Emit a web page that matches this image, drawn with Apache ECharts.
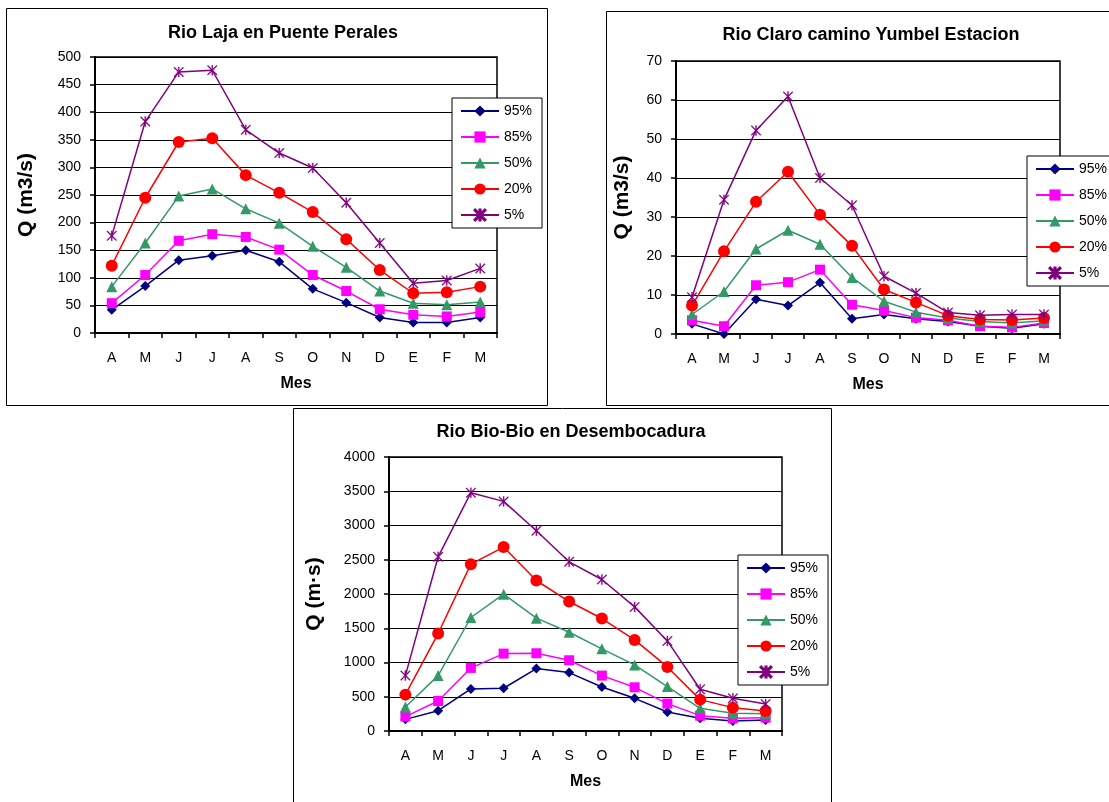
<!DOCTYPE html>
<html><head><meta charset="utf-8">
<script src="https://cdn.jsdelivr.net/npm/echarts@6/dist/echarts.min.js"></script>
<style>html,body{margin:0;padding:0;background:#fff;} #c{width:1109px;height:802px;}</style>
</head><body><div id="c"></div>
<script>
const months = ['A','M','J','J','A','S','O','N','D','E','F','M'];
const seriesNames = ['95%','85%','50%','20%','5%'];

const chartTitles = ['Rio Laja en Puente Perales', 'Rio Claro camino Yumbel Estacion', 'Rio Bio-Bio en Desembocadura'];
const yNames = ['Q (m3/s)', 'Q (m3/s)', 'Q (m·s)'];
const xName = 'Mes';

const laja95 = [42, 85, 132, 140, 150, 129, 80, 55, 28, 19, 19, 28];
const laja85 = [54, 105, 167, 179, 174, 151, 105, 76, 43, 33, 30, 38];
const laja50 = [84, 163, 248, 261, 225, 199, 157, 119, 76, 54, 51, 56];
const laja20 = [122, 245, 346, 353, 286, 254, 219, 170, 114, 72, 74, 84];
const laja05 = [176, 383, 473, 476, 368, 326, 299, 236, 163, 90, 95, 117];

const claro95 = [2.6, 0, 8.9, 7.3, 13.2, 3.9, 5.0, 3.9, 3.2, 2.0, 1.5, 2.6];
const claro85 = [3.5, 2.0, 12.5, 13.3, 16.5, 7.5, 6.0, 4.2, 3.5, 2.0, 1.7, 2.8];
const claro50 = [5.0, 10.9, 21.8, 26.6, 23.0, 14.5, 8.4, 5.6, 4.1, 3.2, 2.8, 3.4];
const claro20 = [7.3, 21.2, 33.9, 41.6, 30.6, 22.6, 11.4, 8.1, 4.7, 3.7, 3.6, 4.1];
const claro05 = [9.4, 34.4, 52.2, 60.9, 40.0, 33.0, 14.8, 10.5, 5.5, 4.8, 5.0, 5.0];

const bio95 = [170, 297, 614, 624, 911, 853, 643, 477, 278, 185, 146, 161];
const bio85 = [210, 438, 921, 1130, 1135, 1033, 809, 638, 400, 224, 185, 195];
const bio50 = [351, 809, 1657, 1998, 1647, 1442, 1199, 965, 648, 331, 258, 253];
const bio20 = [531, 1423, 2436, 2685, 2197, 1890, 1642, 1330, 935, 458, 341, 292];
const bio05 = [809, 2543, 3479, 3352, 2923, 2470, 2212, 1812, 1315, 609, 477, 395];

const yMax = [500, 70, 4000];
const yInterval = [50, 10, 500];

const chartData = [
  [laja95, laja85, laja50, laja20, laja05],
  [claro95, claro85, claro50, claro20, claro05],
  [bio95, bio85, bio50, bio20, bio05]
];

const FONT = 'Liberation Sans, Arial, sans-serif';
const colors = ['#000080', '#FF00FF', '#339966', '#FF0000', '#800080'];
const asterisk = 'path://M4.45,0 L5.55,0 L5.55,10 L4.45,10 Z M0,0.75 L0.75,0 L10,9.25 L9.25,10 Z M9.25,0 L10,0.75 L0.75,10 L0,9.25 Z';
const symbols = ['diamond', 'rect', 'triangle', 'circle', asterisk];
const symbolSizes = [10, 10, 11, 12, 10];

// layout
const grids = [
  {left: 95, top: 57, width: 402, height: 276},
  {left: 676, top: 61, width: 384, height: 273},
  {left: 389, top: 457, width: 393, height: 274}
];
const titlePos = [[278, 19], [866, 21], [566, 418]];
const legendPos = [[452, 98], [1027, 156], [738, 555]];
const yNameGap = [58, 43, 64];

const option = {
  animation: false,
  backgroundColor: '#fff',
  textStyle: {fontFamily: FONT},
  title: chartTitles.map((t, i) => ({
    text: t, left: titlePos[i][0], top: titlePos[i][1], textAlign: 'center',
    textStyle: {fontFamily: FONT, fontSize: 18, fontWeight: 'bold', color: '#000'}
  })),
  legend: legendPos.map((p, i) => ({
    orient: 'vertical', left: p[0], top: p[1],
    itemWidth: 38, itemHeight: 14, itemGap: 12,
    padding: [6, 10, 6, 8],
    backgroundColor: '#fff', borderColor: '#000', borderWidth: 1,
    selectedMode: false,
    textStyle: {fontFamily: FONT, fontSize: 14, color: '#000'},
    data: seriesNames
  })),
  grid: grids.map(g => Object.assign({show: true, borderColor: '#000', borderWidth: 1.5, backgroundColor: '#fff'}, g)),
  xAxis: grids.map((g, i) => ({
    type: 'category', gridIndex: i, data: months,
    axisLine: {show: true, lineStyle: {color: '#000', width: 2}},
    axisTick: {show: true, inside: false, length: 5, lineStyle: {color: '#000', width: 1.5}},
    axisLabel: {fontFamily: FONT, fontSize: 14, color: '#000', margin: 18},
    name: xName, nameLocation: 'middle', nameGap: 43,
    nameTextStyle: {fontFamily: FONT, fontSize: 16, fontWeight: 'bold', color: '#000'}
  })),
  yAxis: grids.map((g, i) => ({
    type: 'value', gridIndex: i, min: 0, max: yMax[i], interval: yInterval[i],
    axisLine: {show: true, lineStyle: {color: '#000', width: 2}},
    axisTick: {show: true, inside: false, length: 5, lineStyle: {color: '#000', width: 1.5}},
    axisLabel: {fontFamily: FONT, fontSize: 14, color: '#000', margin: 14, formatter: v => String(v)},
    splitLine: {show: true, lineStyle: {color: '#000', width: 1}},
    name: yNames[i], nameLocation: 'middle', nameGap: yNameGap[i], nameRotate: 90,
    nameTextStyle: {fontFamily: FONT, fontSize: 21, fontWeight: 'bold', color: '#000'}
  })),
  series: [],
  graphic: [
    {type: 'rect', silent: true, z: -10, shape: {x: 6.5, y: 8.5, width: 541, height: 397}, style: {fill: 'none', stroke: '#000', lineWidth: 1}},
    {type: 'rect', silent: true, z: -10, shape: {x: 606.5, y: 11.5, width: 520, height: 394}, style: {fill: 'none', stroke: '#000', lineWidth: 1}},
    {type: 'rect', silent: true, z: -10, shape: {x: 293.5, y: 408.5, width: 538, height: 420}, style: {fill: 'none', stroke: '#000', lineWidth: 1}}
  ]
};

chartData.forEach((set, ci) => {
  set.forEach((vals, si) => {
    option.series.push({
      type: 'line', name: seriesNames[si], xAxisIndex: ci, yAxisIndex: ci,
      data: vals, symbol: symbols[si], symbolSize: symbolSizes[si],
      showSymbol: true, z: 3 + si,
      lineStyle: {color: colors[si], width: 1.5},
      itemStyle: {color: colors[si], borderColor: colors[si], borderWidth: si === 4 ? 0.3 : 0}
    });
  });
});

const chart = echarts.init(document.getElementById('c'), null, {renderer: 'canvas'});
chart.setOption(option);
</script>
</body></html>
